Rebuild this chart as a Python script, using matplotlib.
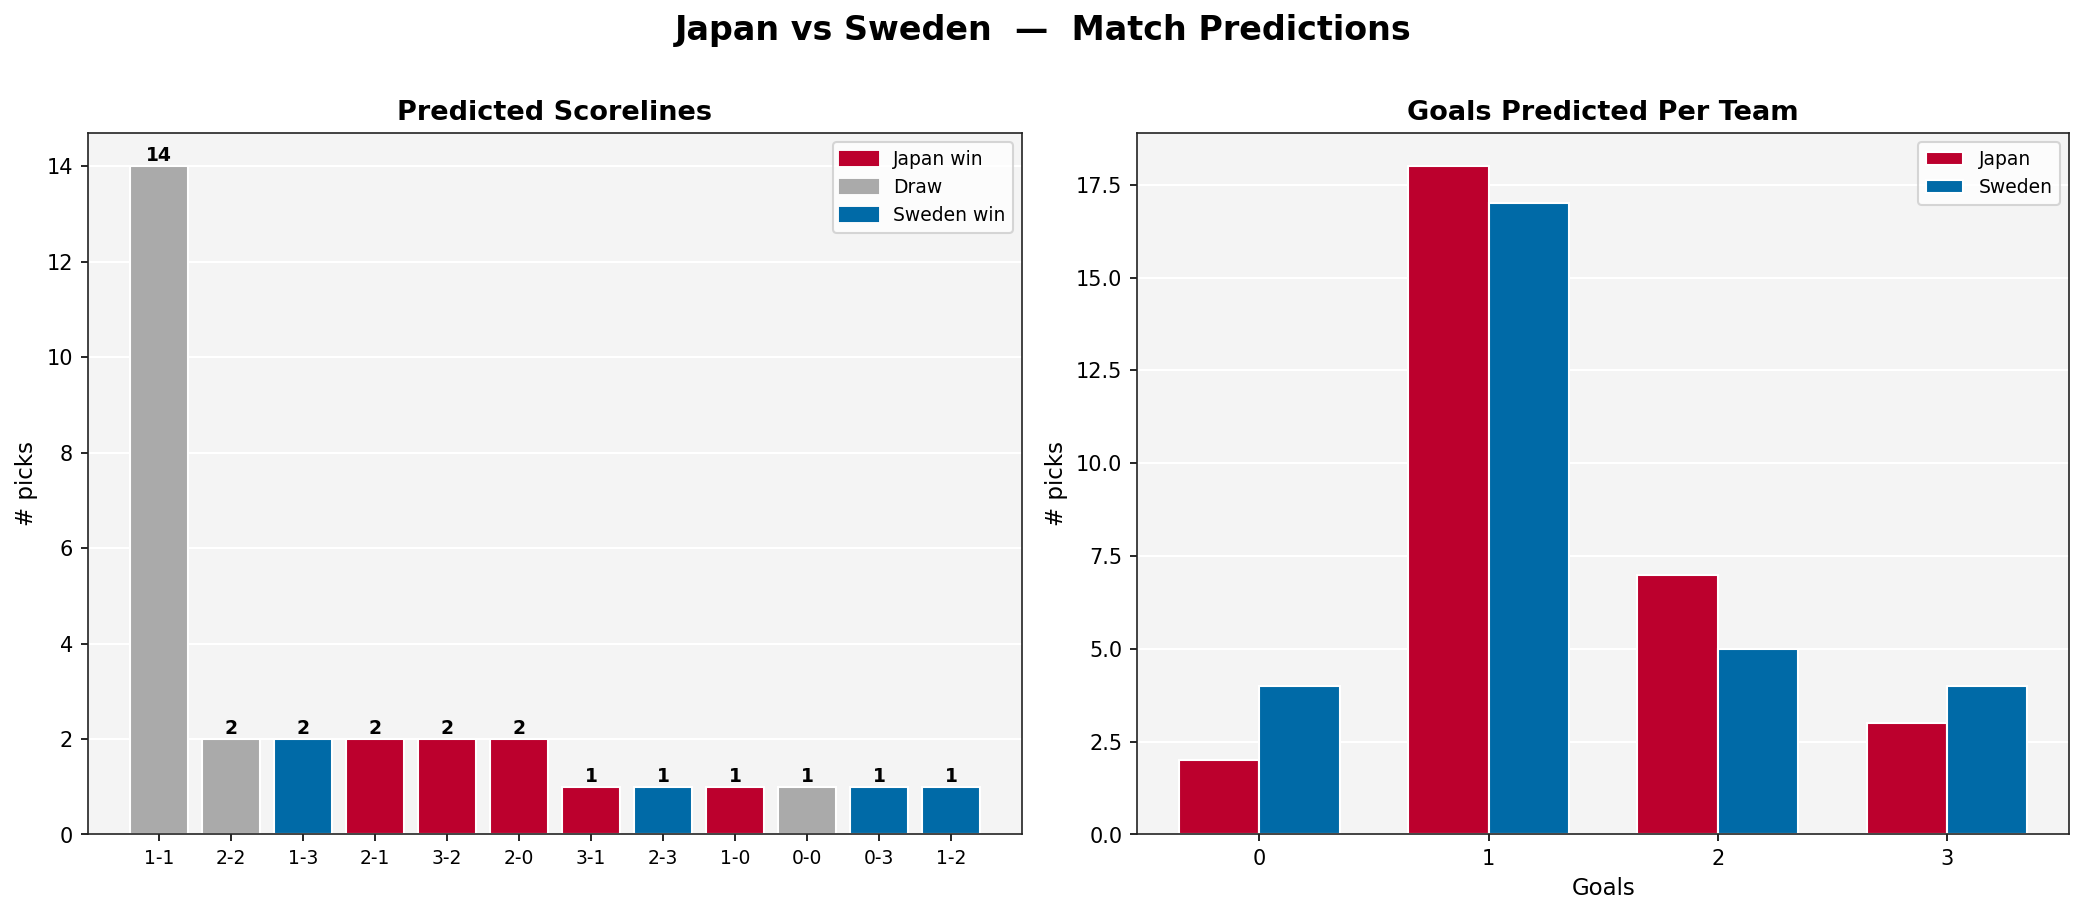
import numpy as np
import matplotlib.pyplot as plt
from matplotlib.patches import Patch

# data
scorelines = ["1-1", "2-2", "1-3", "2-1", "3-2", "2-0", "3-1", "2-3", "1-0", "0-0", "0-3", "1-2"]
score_picks = [14, 2, 2, 2, 2, 2, 1, 1, 1, 1, 1, 1]
score_result = ["draw", "draw", "swe", "jpn", "jpn", "jpn", "jpn", "swe", "jpn", "draw", "swe", "swe"]

goals = [0, 1, 2, 3]
japan_goals = [2, 18, 7, 3]
sweden_goals = [4, 17, 5, 4]

RED = "#BC002D"
BLUE = "#006AA7"
GRAY = "#AAAAAA"
BG = "#F4F4F4"
result_colors = {"jpn": RED, "draw": GRAY, "swe": BLUE}


def style_ax(ax):
    ax.set_facecolor(BG)
    ax.grid(axis="y", color="white", lw=1.0)
    ax.set_axisbelow(True)
    for s in ax.spines.values():
        s.set_color("#222222")


def main():
    fig = plt.figure(figsize=(13.907, 6.107), dpi=150)
    ax1 = fig.add_axes([0.042, 0.089, 0.448, 0.766])
    ax2 = fig.add_axes([0.545, 0.089, 0.447, 0.766])

    # 1. Predicted scorelines
    style_ax(ax1)
    x = np.arange(len(scorelines))
    cols = [result_colors[r] for r in score_result]
    bars = ax1.bar(x, score_picks, color=cols, edgecolor="white", width=0.8)
    ax1.bar_label(bars, padding=0.5, fontsize=9, fontweight="bold")
    ax1.set_xticks(x)
    ax1.set_xticklabels(scorelines, fontsize=9)
    ax1.set_ylim(0, 14.7)
    ax1.set_ylabel("# picks", fontsize=11)
    ax1.set_title("Predicted Scorelines", fontsize=13, fontweight="bold")
    handles = [Patch(color=RED, label="Japan win"), Patch(color=GRAY, label="Draw"),
               Patch(color=BLUE, label="Sweden win")]
    ax1.legend(handles=handles, loc="upper right", fontsize=9)

    # 2. Goals per team
    style_ax(ax2)
    w = 0.35
    g = np.arange(len(goals))
    ax2.bar(g - w / 2, japan_goals, w, color=RED, edgecolor="white", label="Japan")
    ax2.bar(g + w / 2, sweden_goals, w, color=BLUE, edgecolor="white", label="Sweden")
    ax2.set_xticks(g)
    ax2.set_xticklabels([str(v) for v in goals], fontsize=10)
    ax2.set_ylim(0, 18.9)
    ax2.set_xlabel("Goals", fontsize=11)
    ax2.set_ylabel("# picks", fontsize=11)
    ax2.set_title("Goals Predicted Per Team", fontsize=13, fontweight="bold")
    ax2.legend(loc="upper right", fontsize=9)

    fig.suptitle("Japan vs Sweden  \u2014  Match Predictions", fontsize=16, fontweight="bold", y=0.985)
    fig.savefig("out.png", dpi=150)


if __name__ == "__main__":
    main()
